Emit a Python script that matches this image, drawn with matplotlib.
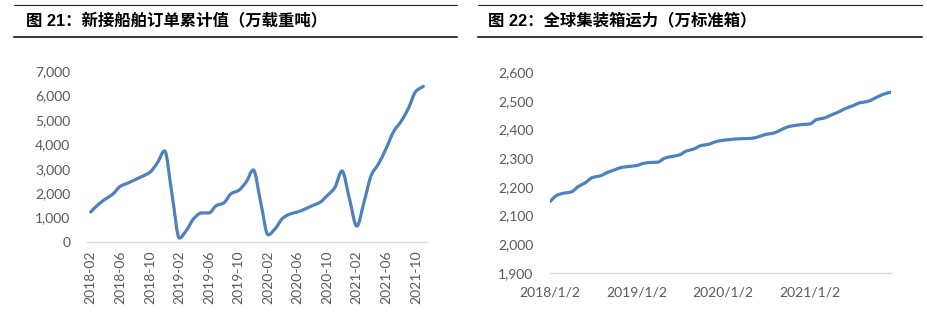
"""Two panels: cumulative new ship orders and global container fleet capacity."""

import matplotlib
matplotlib.use("Agg")
import matplotlib.pyplot as plt
from matplotlib.lines import Line2D
from matplotlib.path import Path
from matplotlib.patches import PathPatch
from matplotlib.ticker import FuncFormatter
import matplotlib.dates as mdates
import numpy as np
import pandas as pd

plt.rcParams["font.family"] = ["Lato", "Noto Sans CJK SC", "DejaVu Sans"]

# left panel: monthly cumulative new ship orders, 2018-02 .. 2021-11 (10k dwt)
order_months = pd.period_range("2018-02", "2021-11", freq="M").strftime("%Y-%m").tolist()
order_values = [1230, 1530, 1760, 1960, 2280, 2410, 2550, 2690, 2850, 3230, 3730,
                1950, 160, 500, 980, 1190, 1190, 1490, 1600, 1980, 2110, 2440, 2950,
                1630, 290, 560, 980, 1150, 1230, 1350, 1490, 1620, 1900, 2210, 2910,
                1780, 650, 1660, 2760, 3230, 3850, 4530, 4940, 5480, 6170, 6370]
order_ticks = order_months[::4]

# right panel: global container fleet capacity (10k TEU)
fleet_dates = ["2018-01-02", "2018-02-01", "2018-03-01", "2018-04-01", "2018-05-01",
               "2018-06-01", "2018-07-01", "2018-08-01", "2018-09-01", "2018-10-01",
               "2018-11-01", "2018-12-01", "2019-01-01", "2019-02-01", "2019-03-01",
               "2019-04-01", "2019-05-01", "2019-06-01", "2019-07-01", "2019-08-01",
               "2019-09-01", "2019-10-01", "2019-11-01", "2019-12-01", "2020-01-01",
               "2020-02-01", "2020-03-01", "2020-04-01", "2020-05-01", "2020-06-01",
               "2020-07-01", "2020-08-01", "2020-09-01", "2020-10-01", "2020-11-01",
               "2020-12-01", "2021-01-01", "2021-02-01", "2021-03-01", "2021-04-01",
               "2021-05-01", "2021-06-01", "2021-07-01", "2021-08-01", "2021-09-01",
               "2021-10-01", "2021-11-01", "2021-12-01", "2021-12-10"]
fleet_values = [2149, 2171, 2178, 2182, 2201, 2215, 2233, 2238, 2250, 2259, 2268,
                2271, 2274, 2282, 2285, 2286, 2300, 2306, 2311, 2325, 2332, 2344,
                2348, 2357, 2362, 2365, 2367, 2368, 2369, 2375, 2383, 2387, 2398,
                2409, 2414, 2417, 2419, 2435, 2439, 2450, 2460, 2473, 2482, 2493,
                2497, 2508, 2520, 2528, 2529]
fleet_ticks = ["2018-01-02", "2019-01-02", "2020-01-02", "2021-01-02"]

LINE = "#4f81bd"
TICK = "#595959"
AXIS = "#d9d9d9"
W, H = 927, 314


def smooth_line(ax, xs, ys, **kw):
    """Smoothed line through every data point (monotone cubic, no overshoot)."""
    x = np.asarray(xs, float)
    y = np.asarray(ys, float)
    h = np.diff(x)
    d = np.diff(y) / h
    m = np.empty_like(y)
    m[0], m[-1] = d[0], d[-1]
    for k in range(1, len(y) - 1):
        if d[k - 1] * d[k] <= 0:
            m[k] = 0.0
        else:
            w1, w2 = 2 * h[k] + h[k - 1], h[k] + 2 * h[k - 1]
            m[k] = (w1 + w2) / (w1 / d[k - 1] + w2 / d[k])
    verts, codes = [(x[0], y[0])], [Path.MOVETO]
    for i in range(len(x) - 1):
        t = h[i] / 3
        verts += [(x[i] + t, y[i] + m[i] * t),
                  (x[i + 1] - t, y[i + 1] - m[i + 1] * t),
                  (x[i + 1], y[i + 1])]
        codes += [Path.CURVE4] * 3
    ax.add_patch(PathPatch(Path(verts, codes), fill=False, capstyle="round",
                           joinstyle="round", **kw))


def header(x0, x1, tx, text):
    fig.add_artist(Line2D([x0 / W, x1 / W], [1 - 5 / H] * 2, color="#222222", lw=0.8))
    fig.add_artist(Line2D([x0 / W, x1 / W], [1 - 37 / H] * 2, color="#000000", lw=1.1))
    fig.text(tx / W, 1 - 20 / H, text, fontsize=11.8, fontweight="bold",
             family=["Liberation Sans", "Noto Sans CJK SC"], va="center", ha="left")


def style(ax):
    ax.spines[["top", "right", "left"]].set_visible(False)
    ax.spines["bottom"].set_color(AXIS)
    ax.spines["bottom"].set_linewidth(1.0)
    ax.tick_params(length=0, colors=TICK, labelsize=10)


fig = plt.figure(figsize=(W / 100, H / 100), dpi=100)

header(14, 457, 26, "图 21：新接船舶订单累计值（万载重吨）")
header(478, 922, 488, "图 22：全球集装箱运力（万标准箱）")

# left panel
ax1 = fig.add_axes([87 / W, 1 - 242 / H, 340 / W, 171 / H])
smooth_line(ax1, np.arange(len(order_months)), order_values, color=LINE, lw=2.3)
ax1.set_xlim(-0.5, len(order_months) - 0.5)
ax1.set_ylim(0, 7000)
ax1.set_yticks(range(0, 7001, 1000))
ax1.yaxis.set_major_formatter(FuncFormatter(lambda v, _: f"{v:,.0f}"))
ax1.set_xticks([order_months.index(t) for t in order_ticks])
ax1.set_xticklabels(order_ticks, rotation=90)
ax1.tick_params(axis="y", pad=12)
ax1.tick_params(axis="x", pad=6)
style(ax1)

# right panel
ax2 = fig.add_axes([550 / W, 1 - 273 / H, 341 / W, 201 / H])
fd = pd.to_datetime(fleet_dates)
smooth_line(ax2, mdates.date2num(fd), fleet_values, color=LINE, lw=2.3)
ax2.set_xlim(fd[0], fd[-1])
ax2.set_ylim(1900, 2600)
ax2.set_yticks(range(1900, 2601, 100))
ax2.yaxis.set_major_formatter(FuncFormatter(lambda v, _: f"{v:,.0f}"))
ticks = pd.to_datetime(fleet_ticks)
ax2.set_xticks(ticks)
ax2.set_xticklabels([f"{t.year}/{t.month}/{t.day}" for t in ticks])
ax2.tick_params(axis="y", pad=12)
ax2.tick_params(axis="x", pad=10)
style(ax2)

fig.savefig("out.png", dpi=100)
